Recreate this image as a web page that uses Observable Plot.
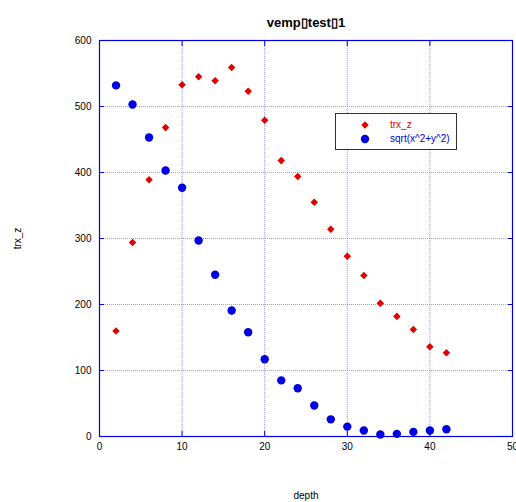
<!DOCTYPE html>
<html>
<head>
<meta charset="utf-8">
<script src="https://cdn.jsdelivr.net/npm/d3@7"></script>
<script src="https://cdn.jsdelivr.net/npm/@observablehq/plot@0.6"></script>
<style>
  body { margin: 0; background: #fff; }
  #wrap { position: relative; width: 516px; height: 502px; font-family: "Liberation Sans", Arial, sans-serif; }
  #legend { position: absolute; left: 335px; top: 113px; width: 122px; height: 37px; border: 1.5px solid #333; background: #fff; box-sizing: border-box; font-size: 10px; }
  #legend .row { position: absolute; left: 0; width: 100%; height: 14px; }
  #legend .lab { position: absolute; left: 54px; top: 0; line-height: 14px; }
</style>
</head>
<body>
<div id="wrap"></div>
<script>
const depth = [2,4,6,8,10,12,14,16,18,20,22,24,26,28,30,32,34,36,38,40,42];
const trxZ = [160,294,389,468,533,545,539,559,523,479,418,394,355,314,273,244,202,182,162,136,127];
const sqrtXY = [532,503,453,403,377,297,245,191,158,117,85,73,47,26,15,9,3,4,7,9,11];
const xTicks = [0,10,20,30,40,50];
const yTicks = [0,100,200,300,400,500,600];
const seriesNames = ["trx_z", "sqrt(x^2+y^2)"];
const seriesColors = ["#e00000", "#0000e0"];

const redData = depth.map((d, i) => ({depth: d, v: trxZ[i]}));
const blueData = depth.map((d, i) => ({depth: d, v: sqrtXY[i]}));

// square diamond (equal width and height)
const squareDiamond = {
  draw(context, size) {
    const h = Math.sqrt(size / 2);
    context.moveTo(0, -h);
    context.lineTo(h, 0);
    context.lineTo(0, h);
    context.lineTo(-h, 0);
    context.closePath();
  }
};

const gridStyle = {stroke: "#6a6aff", strokeOpacity: 0.7, strokeDasharray: "1,1", strokeWidth: 1};

const chart = Plot.plot({
  width: 516,
  height: 502,
  marginLeft: 99,
  marginRight: 4,
  marginTop: 40,
  marginBottom: 66,
  style: {fontFamily: "'Liberation Sans', Arial, sans-serif", fontSize: "10px", background: "#fff", color: "#000"},
  x: {domain: [0, 50], ticks: xTicks},
  y: {domain: [0, 600], ticks: yTicks},
  marks: [
    Plot.ruleX(xTicks, gridStyle),
    Plot.ruleY(yTicks, gridStyle),
    Plot.frame({stroke: "#0000e0", strokeWidth: 1.2}),
    Plot.axisX(xTicks, {anchor: "bottom", tickSize: -5, stroke: "#0000e0", tickPadding: 11, label: "depth", labelAnchor: "center", labelArrow: "none", labelOffset: 62}),
    Plot.axisX(xTicks, {anchor: "top", tickSize: -5, stroke: "#0000e0", text: null, label: null}),
    Plot.axisY(yTicks, {anchor: "left", tickSize: -5, stroke: "#0000e0", tickPadding: 13, label: "trx_z", labelAnchor: "center", labelArrow: "none", labelOffset: 86}),
    Plot.axisY(yTicks, {anchor: "right", tickSize: -5, stroke: "#0000e0", text: null, label: null}),
    Plot.dot(redData, {x: "depth", y: "v", symbol: squareDiamond, r: 3, fill: seriesColors[0], stroke: "none"}),
    Plot.dot(blueData, {x: "depth", y: "v", symbol: "circle", r: 4.2, fill: seriesColors[1], stroke: "none"}),
    Plot.text(["vemp\u25AFtest\u25AF1"], {frameAnchor: "top", dy: -23, fontWeight: "bold", fontSize: 13})
  ]
});
document.getElementById("wrap").appendChild(chart);

const legend = document.createElement("div");
legend.id = "legend";
seriesNames.forEach((name, i) => {
  const row = document.createElement("div");
  row.className = "row";
  row.style.top = (4 + i * 14) + "px";
  const sym = document.createElementNS("http://www.w3.org/2000/svg", "svg");
  sym.setAttribute("width", 12); sym.setAttribute("height", 12);
  sym.style.position = "absolute"; sym.style.left = "23px"; sym.style.top = "1px";
  const shape = document.createElementNS("http://www.w3.org/2000/svg", "path");
  shape.setAttribute("transform", "translate(6,6)");
  shape.setAttribute("d", i === 0 ? d3.symbol(squareDiamond, 3 * 3 * Math.PI)() : d3.symbol(d3.symbolCircle, 4.2 * 4.2 * Math.PI)());
  shape.setAttribute("fill", seriesColors[i]);
  sym.appendChild(shape);
  row.appendChild(sym);
  const lab = document.createElement("span");
  lab.className = "lab";
  lab.textContent = name;
  lab.style.color = seriesColors[i];
  row.appendChild(lab);
  legend.appendChild(row);
});
document.getElementById("wrap").appendChild(legend);
</script>
</body>
</html>
